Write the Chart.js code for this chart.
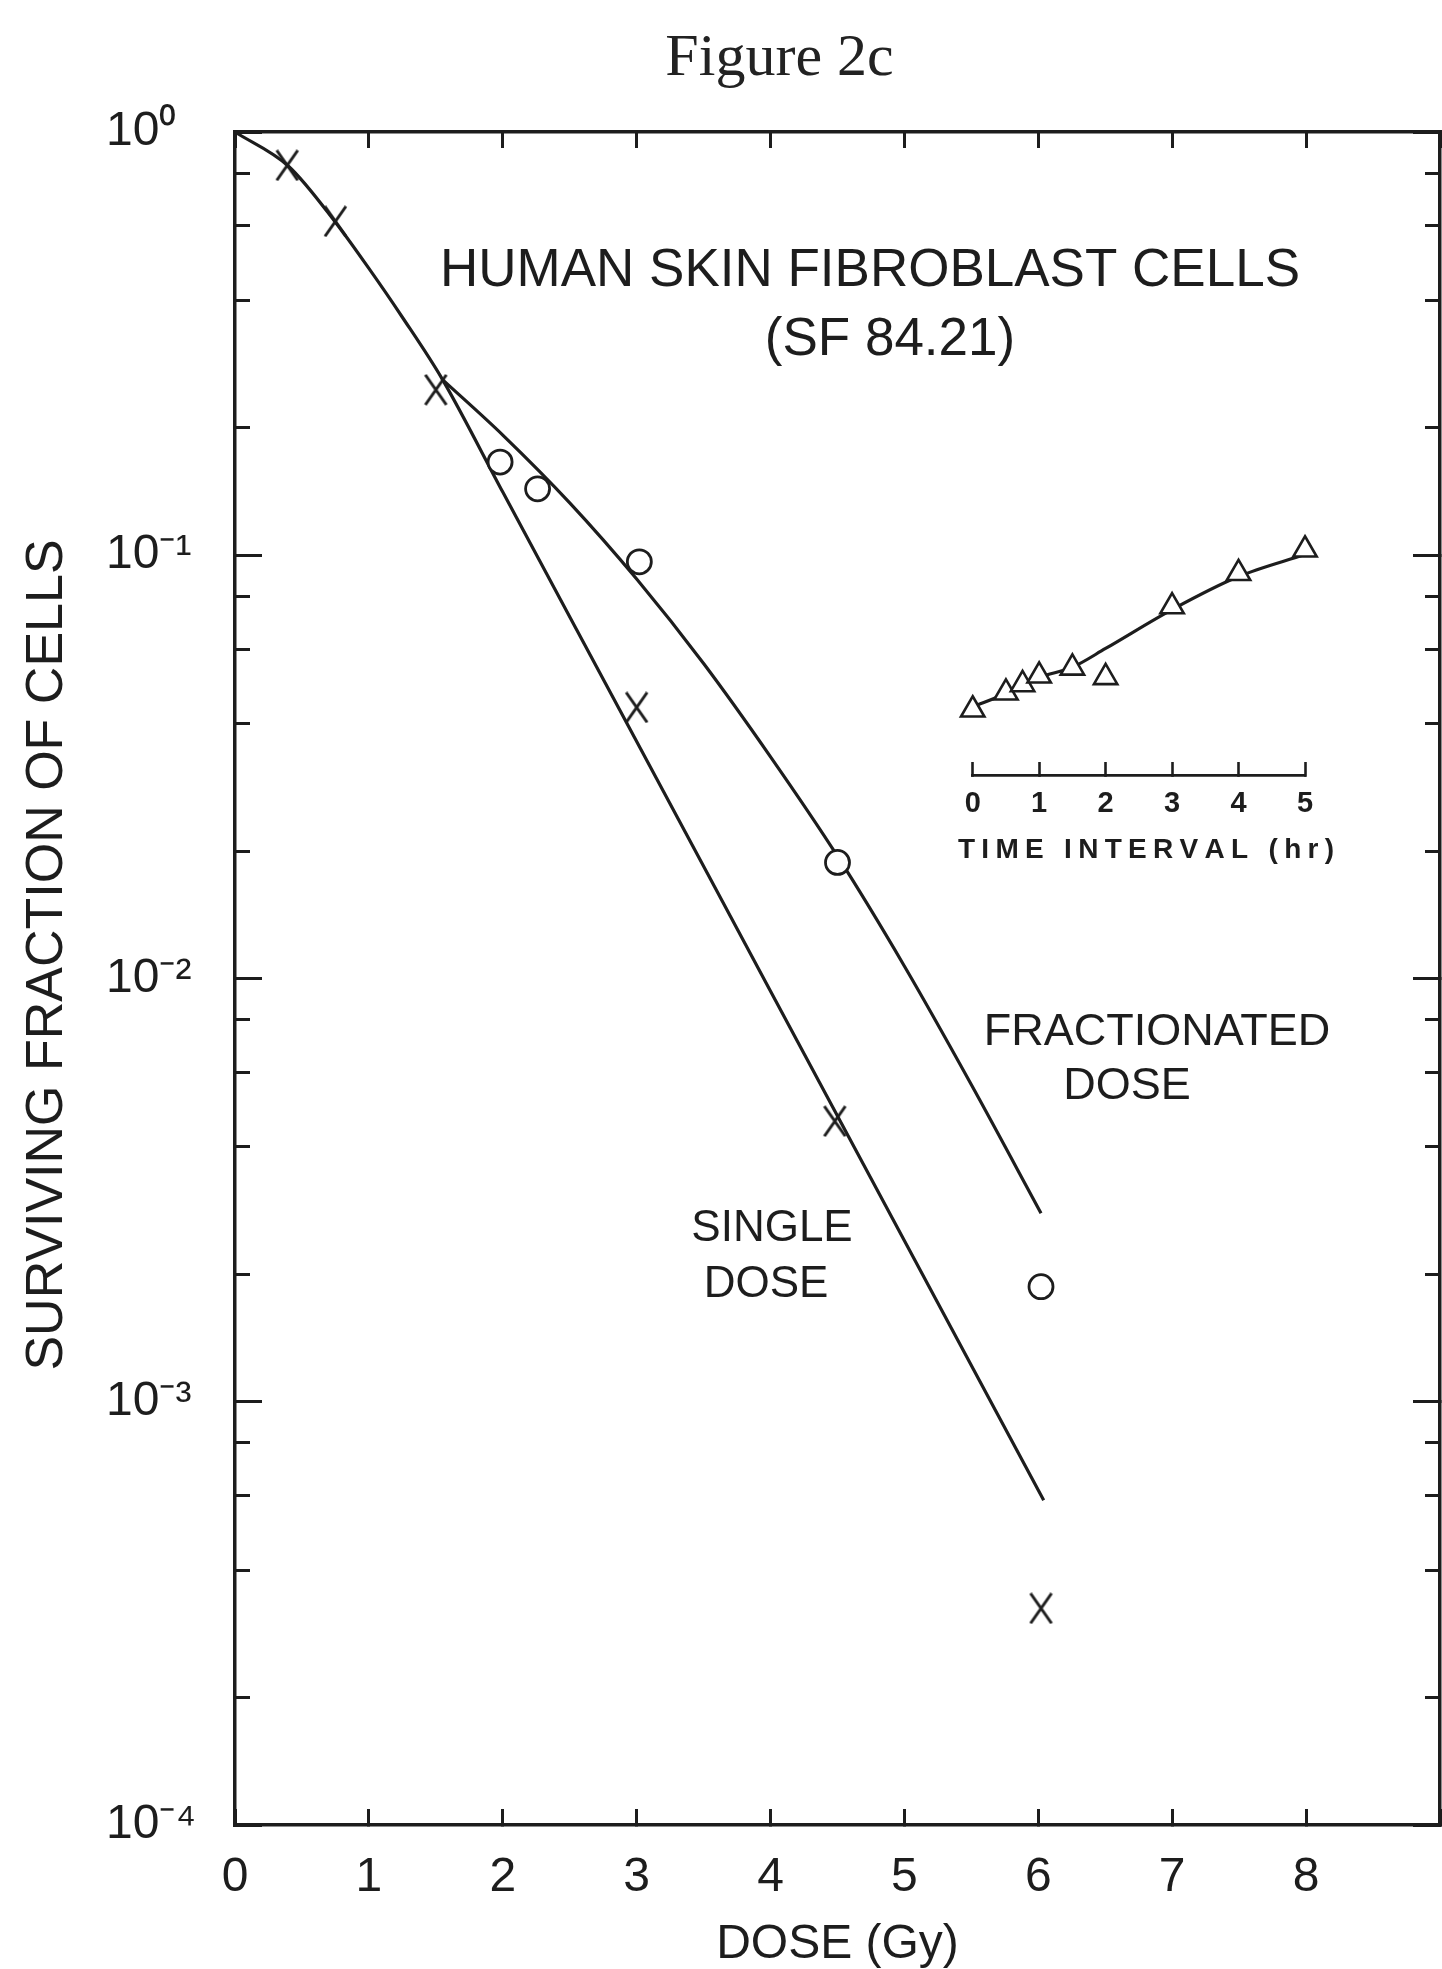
<!DOCTYPE html>
<html>
<head>
<meta charset="utf-8">
<script src="https://cdn.jsdelivr.net/npm/chart.js@4.4.1/dist/chart.umd.min.js"></script>
<style>
  html, body { margin: 0; padding: 0; background: #ffffff; overflow: hidden; }
  #wrap { position: relative; width: 1442px; height: 1969px; overflow: hidden; }
  #main { position: absolute; left: 0; top: 0; }
  #inset { position: absolute; left: 900px; top: 480px; width: 480px; height: 400px; }
</style>
</head>
<body>
<div id="wrap">
  <canvas id="main" width="1442" height="1969"></canvas>
  <canvas id="inset" width="480" height="400"></canvas>
</div>
<script>
// ---------------- data ----------------
const doseTicks = [0, 1, 2, 3, 4, 5, 6, 7, 8, 9];
const doseTickLabels = ['0', '1', '2', '3', '4', '5', '6', '7', '8', ''];
const sfMajorTicks = [1e-4, 1e-3, 1e-2, 1e-1, 1];
const sfMajorLabels = ['10\u207B\u2074', '10\u207B\u00B3', '10\u207B\u00B2', '10\u207B\u00B9', '10\u2070'];
const sfMinorTicks = [2e-4, 4e-4, 6e-4, 8e-4, 2e-3, 4e-3, 6e-3, 8e-3, 2e-2, 4e-2, 6e-2, 8e-2, 0.2, 0.4, 0.6, 0.8];

// single dose: measured points (X) and fitted curve
const singleDose = [0.39, 0.75, 1.5, 3.0, 4.48, 6.02];
const singleSF   = [0.834, 0.615, 0.246, 0.0437, 0.0046, 0.000325];
const singleFitDose = [0, 0.4, 0.75, 1.0, 1.25, 1.55, 2.0, 3.0, 4.0, 5.0, 6.04];
const singleFitSF   = [1.0, 0.83, 0.612, 0.476, 0.365, 0.26, 0.141, 0.0363, 0.00933, 0.0024, 0.000585];

// fractionated dose: measured points (O) and fitted curve
const fracDose = [1.98, 2.26, 3.02, 4.5, 6.02];
const fracSF   = [0.166, 0.1435, 0.0965, 0.0188, 0.00187];
const fracFitDose = [1.55, 2.0, 2.5, 3.0, 3.5, 4.0, 4.5, 5.0, 5.5, 6.02];
const fracFitSF   = [0.26, 0.1923, 0.133, 0.0879, 0.0555, 0.0334, 0.01945, 0.01069, 0.00561, 0.00279];

// inset: surviving fraction vs time interval between fractions
const timeTicks = [0, 1, 2, 3, 4, 5];
const timeTickLabels = ['0', '1', '2', '3', '4', '5'];
const intervalHr = [0, 0.5, 0.75, 1, 1.5, 2, 3, 4, 5];
const intervalSF = [0.044, 0.0485, 0.0509, 0.0535, 0.056, 0.053, 0.0797, 0.0965, 0.1105];
const intervalFitHr = [0, 0.5, 1, 1.5, 2, 3, 4, 5];
const intervalFitSF = [0.0447, 0.0483, 0.0530, 0.0562, 0.0626, 0.0783, 0.0947, 0.1075];

// ---------------- helpers / styles ----------------
const INK = '#1d1d1d';
const SANS = "'Liberation Sans', Arial, Helvetica, sans-serif";
const SERIF = "'Liberation Serif', 'Times New Roman', serif";
const zip = (xs, ys) => xs.map((x, i) => ({ x: x, y: ys[i] }));
const setTicks = values => scale => { scale.ticks = values.map(v => ({ value: v })); };

function drawSpaced(ctx, text, cx, cy, spacing) {
  const chars = Array.from(text);
  const widths = chars.map(ch => ctx.measureText(ch).width);
  const total = widths.reduce((a, b) => a + b, 0) + spacing * (chars.length - 1);
  let x = cx - total / 2;
  ctx.textAlign = 'left';
  chars.forEach((ch, i) => { ctx.fillText(ch, x, cy); x += widths[i] + spacing; });
}

// X-shaped marker (taller than wide, like the printed "X")
const xMarker = document.createElement('canvas');
xMarker.width = 25; xMarker.height = 32;
(function () {
  const c = xMarker.getContext('2d');
  c.strokeStyle = INK; c.lineWidth = 3; c.lineCap = 'butt';
  c.beginPath();
  c.moveTo(2, 1); c.lineTo(23, 31);
  c.moveTo(23, 1); c.lineTo(2, 31);
  c.stroke();
})();

const notesPlugin = {
  id: 'notes',
  afterDraw(chart) {
    const ctx = chart.ctx;
    ctx.save();
    ctx.fillStyle = INK;
    ctx.textAlign = 'center';
    ctx.textBaseline = 'alphabetic';
    const notes = [
      ['HUMAN SKIN FIBROBLAST CELLS', 870, 286, 53],
      ['(SF 84.21)', 890, 355, 53],
      ['FRACTIONATED', 1157, 1045, 45],
      ['DOSE', 1127, 1099, 45],
      ['SINGLE', 772, 1241, 44],
      ['DOSE', 766, 1297, 44]
    ];
    notes.forEach(n => {
      ctx.font = n[3] + 'px ' + SANS;
      ctx.fillText(n[0], n[1], n[2]);
    });
    // y-axis title
    ctx.translate(48, 955);
    ctx.rotate(-Math.PI / 2);
    ctx.textBaseline = 'middle';
    ctx.font = '52px ' + SANS;
    ctx.fillText('SURVIVING FRACTION OF CELLS', 0, 0);
    ctx.restore();
  }
};

const frameGrid = len => ({ drawOnChartArea: false, drawTicks: true, tickLength: len, tickWidth: 3, tickColor: INK });
const frameBorder = { display: true, color: INK, width: 3.5 };
const noPad = s => { s.paddingLeft = 0; s.paddingRight = 0; };

function mainConfig() {
  return {
    type: 'scatter',
    data: {
      datasets: [
        { label: 'Single dose', data: zip(singleDose, singleSF), showLine: false,
          pointStyle: xMarker, pointRadius: 14, borderColor: INK, clip: false },
        { label: 'Fractionated dose', data: zip(fracDose, fracSF), showLine: false,
          pointStyle: 'circle', pointRadius: 12, pointBorderWidth: 2.8, borderColor: INK,
          pointBackgroundColor: '#ffffff', backgroundColor: '#ffffff', clip: false },
        { label: 'Single dose fit', data: zip(singleFitDose, singleFitSF), showLine: true,
          borderColor: INK, borderWidth: 3.2, pointRadius: 0, cubicInterpolationMode: 'monotone', clip: false },
        { label: 'Fractionated fit', data: zip(fracFitDose, fracFitSF), showLine: true,
          borderColor: INK, borderWidth: 3.2, pointRadius: 0, cubicInterpolationMode: 'monotone', clip: false }
      ]
    },
    options: {
      responsive: false,
      maintainAspectRatio: false,
      animation: false,
      devicePixelRatio: 1,
      layout: { padding: { left: 106, right: 2, top: 0, bottom: 0 } },
      plugins: {
        legend: { display: false },
        tooltip: { enabled: false },
        title: {
          display: true, text: 'Figure 2c', color: '#222',
          font: { family: SERIF, size: 60, weight: 'normal', lineHeight: 1.2 },
          padding: { top: 22.75, bottom: 37.25 }
        }
      },
      scales: {
        x: {
          type: 'linear', position: 'bottom', min: 0, max: 9,
          afterBuildTicks: setTicks(doseTicks),
          ticks: { autoSkip: false, maxRotation: 0, padding: 39.6, color: INK,
                   font: { family: SANS, size: 48 }, callback: (v, i) => doseTickLabels[i] },
          grid: frameGrid(-16), border: frameBorder,
          title: { display: true, text: 'DOSE (Gy)', color: INK, padding: 0,
                   font: { family: SANS, size: 48, lineHeight: 1 } },
          afterFit: s => { s.height = 144; noPad(s); }
        },
        xTop: {
          type: 'linear', position: 'top', min: 0, max: 9,
          afterBuildTicks: setTicks(doseTicks),
          ticks: { display: false }, grid: frameGrid(-16), border: frameBorder,
          afterFit: s => { s.height = 0; noPad(s); }
        },
        y: {
          type: 'logarithmic', position: 'left', min: 1e-4, max: 1,
          afterBuildTicks: setTicks(sfMajorTicks),
          ticks: { autoSkip: false, crossAlign: 'far', color: INK,
                   font: { family: SANS, size: 48 }, callback: (v, i) => sfMajorLabels[i] },
          grid: frameGrid(-27), border: frameBorder,
          afterFit: s => { s.width = 129; }
        },
        yRight: {
          type: 'logarithmic', position: 'right', min: 1e-4, max: 1,
          afterBuildTicks: setTicks(sfMajorTicks),
          ticks: { display: false }, grid: frameGrid(-27), border: frameBorder,
          afterFit: s => { s.width = 0; }
        },
        yMinorL: {
          type: 'logarithmic', position: { x: 0 }, min: 1e-4, max: 1,
          afterBuildTicks: setTicks(sfMinorTicks),
          ticks: { display: false }, grid: frameGrid(-15), border: { display: false },
          afterFit: s => { s.width = 0; }
        },
        yMinorR: {
          type: 'logarithmic', position: { x: 9 }, min: 1e-4, max: 1,
          afterBuildTicks: setTicks(sfMinorTicks),
          ticks: { display: false }, grid: frameGrid(15), border: { display: false },
          afterFit: s => { s.width = 0; }
        }
      }
    },
    plugins: [notesPlugin]
  };
}

// build the main chart; widen the canvas if the plot frame does not reach x = 1440
const mainCanvas = document.getElementById('main');
function buildMain(width) {
  mainCanvas.width = width; mainCanvas.height = 1969;
  mainCanvas.style.width = width + 'px'; mainCanvas.style.height = '1969px';
  return new Chart(mainCanvas, mainConfig());
}
let mainChart = buildMain(1442);
const gap = Math.round(1440 - mainChart.chartArea.right);
if (gap > 0) {
  mainChart.destroy();
  mainChart = buildMain(1442 + gap);
}

// ---------------- inset chart ----------------
const insetTitlePlugin = {
  id: 'insetTitle',
  afterDraw(chart) {
    const ctx = chart.ctx;
    ctx.save();
    ctx.fillStyle = INK;
    ctx.textBaseline = 'middle';
    ctx.font = 'bold 28px ' + SANS;
    drawSpaced(ctx, 'TIME INTERVAL (hr)', 246, 370, 6.3);
    ctx.restore();
  }
};

new Chart(document.getElementById('inset'), {
  type: 'scatter',
  data: {
    datasets: [
      { label: 'Interval', data: zip(intervalHr, intervalSF), showLine: false,
        pointStyle: 'triangle', pointRadius: 13.5, pointBorderWidth: 2.6, borderColor: INK,
        pointBackgroundColor: '#ffffff', backgroundColor: '#ffffff', clip: false },
      { label: 'Interval fit', data: zip(intervalFitHr, intervalFitSF), showLine: true,
        borderColor: INK, borderWidth: 3.2, pointRadius: 0, cubicInterpolationMode: 'monotone', clip: false }
    ]
  },
  options: {
    responsive: false,
    animation: false,
    devicePixelRatio: 1,
    layout: { padding: { left: 72.7, right: 75, top: 0, bottom: 0 } },
    plugins: { legend: { display: false }, tooltip: { enabled: false }, title: { display: false } },
    scales: {
      x: {
        type: 'linear', position: 'bottom', min: 0, max: 5,
        afterBuildTicks: setTicks(timeTicks),
        ticks: { autoSkip: false, maxRotation: 0, padding: 25, color: INK,
                 font: { family: SANS, size: 29, weight: 'bold' }, callback: (v, i) => timeTickLabels[i] },
        grid: { drawOnChartArea: false, drawTicks: true, tickLength: -13, tickWidth: 2.6, tickColor: INK },
        border: { display: true, color: INK, width: 2.8 },
        title: { display: false, text: 'TIME INTERVAL (hr)' },
        afterFit: s => { s.height = 105; s.paddingLeft = 0; s.paddingRight = 0; }
      },
      y: { type: 'logarithmic', display: false, min: 0.03022, max: 0.1505 }
    }
  },
  plugins: [insetTitlePlugin]
});
</script>
</body>
</html>
